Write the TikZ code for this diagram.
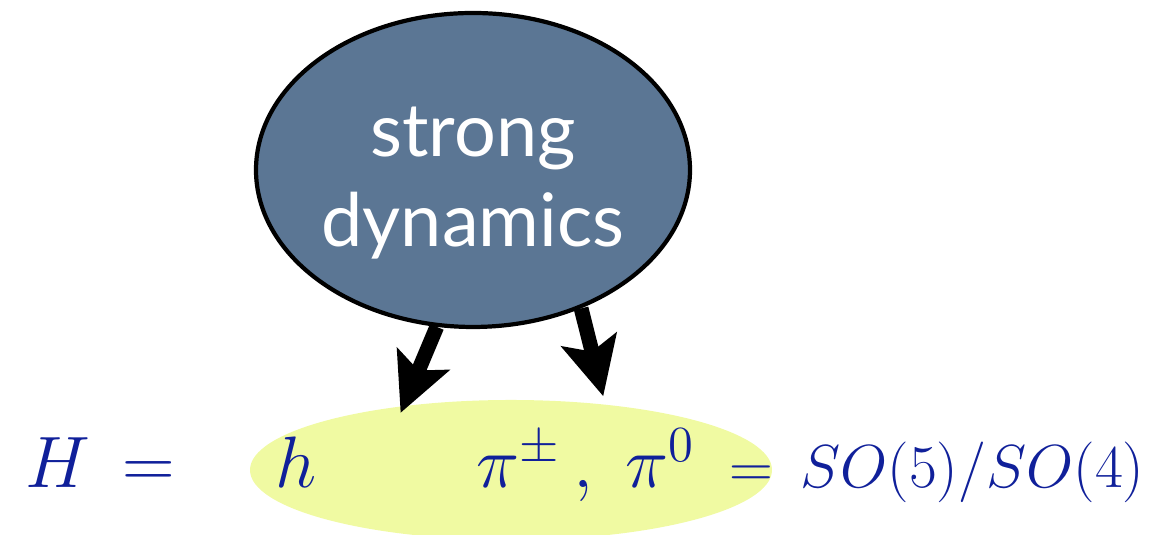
\documentclass[tikz,border=0pt]{standalone}
\usepackage{fontspec}
\usepackage{tikz}
\usetikzlibrary{arrows.meta,positioning,shapes.geometric}
\newfontfamily\chmblobfont{Lato}
\definecolor{ChmSlate}{HTML}{5B7694}
\definecolor{ChmLime}{HTML}{F0FAA2}
\definecolor{ChmInk}{HTML}{10209A}
\tikzset{
  chmblob/.style={
    ellipse,
    draw=black,
    line width=1.2pt,
    fill=ChmSlate,
    minimum width=4.34cm,
    minimum height=3.14cm,
    inner sep=0pt
  },
  chmblobtext/.style={
    text=white,
    align=center,
    inner sep=0pt,
    font=\chmblobfont\fontsize{21}{25.5}\selectfont
  },
  chmlight/.style={
    ellipse,
    fill=ChmLime,
    minimum width=5.22cm,
    minimum height=1.40cm,
    inner sep=0pt
  },
  chmmath/.style={
    anchor=base west,
    inner sep=0pt,
    text=ChmInk,
    font=\fontsize{22}{26}\selectfont
  },
  chmcoset/.style={
    chmmath,
    font=\fontsize{18.5}{22}\selectfont
  },
  chmarrow/.style={-{Stealth[length=5.8mm,width=5.6mm,inset=1.2mm]},line width=4.2pt,draw=black}
}
\begin{document}
\begin{tikzpicture}
    \useasboundingbox (0,0) rectangle (11.71,5.35);
    \node[chmlight] (light) at (5.11,0.65) {};
    \node[chmblob] (blob) at (4.73,3.65) {};
    \node[chmblobtext] (blobtext) at (4.73,3.52) {strong\\dynamics};
    \node[chmmath] (higgs) at (0.25,0.47) {$H\,=$};
    \node[chmmath] (hfield) at (2.75,0.47) {$h$};
    \node[chmmath] (pions) at (4.76,0.47) {$\pi^{\pm}\,,\;\pi^{0}$};
    \node[chmcoset] (coset) at (7.29,0.47) {$=\,SO(5)/SO(4)$};
    \draw[chmarrow,shorten >=-0.08cm] (blob.-103) -- (light.149);
    \draw[chmarrow,shorten >=0.08cm] (blob.-52) -- (light.35);
  \end{tikzpicture}
\end{document}
